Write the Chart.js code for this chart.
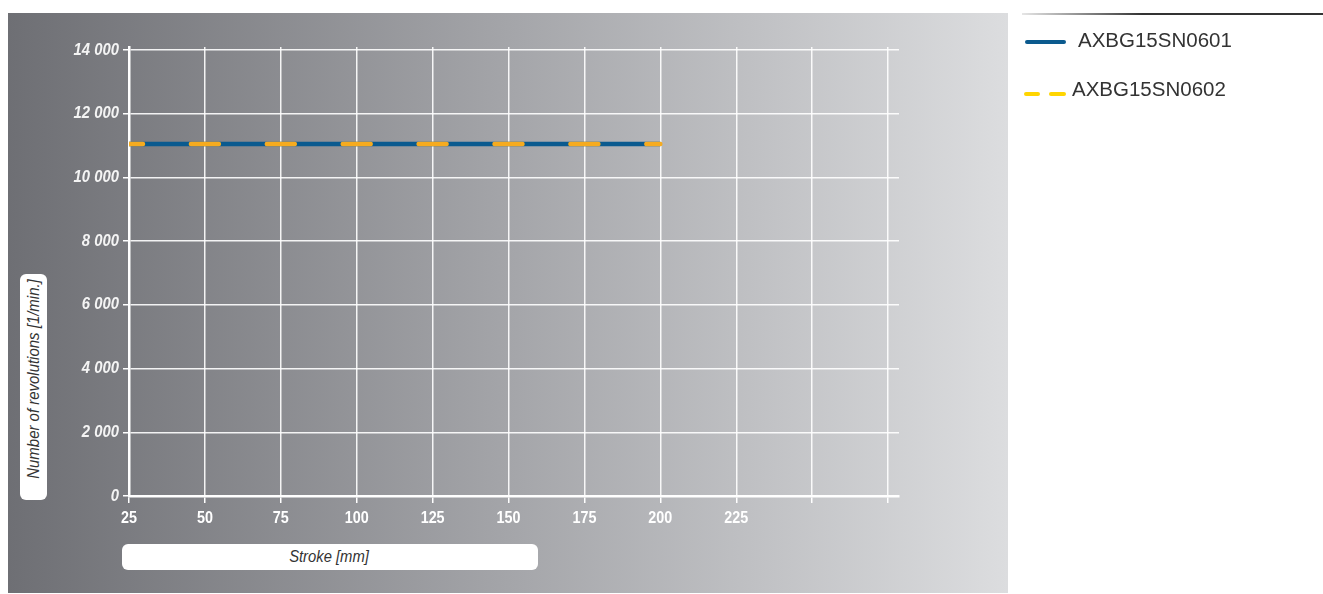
<!DOCTYPE html>
<html>
<head>
<meta charset="utf-8">
<script src="https://cdn.jsdelivr.net/npm/chart.js@4/dist/chart.umd.min.js"></script>
<style>
  html, body { margin:0; padding:0; background:#fff; }
  body { width:1323px; height:594px; position:relative; overflow:hidden; font-family:"Liberation Sans",Arial,sans-serif; }
  #panel { position:absolute; left:8px; top:13px; width:1000px; height:580px;
           background:linear-gradient(to right,#6e6f74 0%,#a4a5a9 50%,#dcdddf 100%); }
  #wrap { position:absolute; left:0; top:0; width:1323px; height:594px; }
  .box { position:absolute; background:#fff; border-radius:6px; color:#333; font-style:italic; }
  #ytitle { left:20px; top:274px; width:27px; height:226px; }
  #ytitle span { position:absolute; left:50%; top:105px; transform:translate(-50%,-50%) rotate(-90deg) scaleX(0.88); white-space:nowrap; font-size:17px; }
  #xtitle { left:122px; top:544px; width:416px; height:26px; }
  #xtitle span { position:absolute; left:207px; top:13px; transform:translate(-50%,-50%) scaleX(0.87); white-space:nowrap; font-size:17px; }
  #topline { position:absolute; left:1022px; top:13px; width:301px; height:2px; background:linear-gradient(to right,#e6e6e6,#333 40%,#333); }
  .lg { position:absolute; font-family:"Liberation Sans",Arial,sans-serif; font-size:20.5px; color:#333; white-space:nowrap; }
  .sw { position:absolute; height:4px; border-radius:2px; }
</style>
</head>
<body>
<div id="panel"></div>
<div id="wrap"><canvas id="c" width="1323" height="594"></canvas></div>
<div class="box" id="ytitle"><span>Number of revolutions [1/min.]</span></div>
<div class="box" id="xtitle"><span>Stroke [mm]</span></div>
<div id="topline"></div>
<div class="sw" style="left:1025px;top:40px;width:41px;background:#0b5a8e"></div>
<div class="lg" id="lg1" style="left:1078px;top:28px"></div>
<div class="sw" style="left:1024px;top:92px;width:16px;background:#ffd500"></div>
<div class="sw" style="left:1049px;top:92px;width:17px;background:#ffd500"></div>
<div class="lg" id="lg2" style="left:1072px;top:77px"></div>
<script>
// ---- data ----
const seriesNames = ["AXBG15SN0601", "AXBG15SN0602"];
const strokeMm = [25, 200];
const revA = [11050, 11050];
const revB = [11050, 11050];
const xTickValues = [25, 50, 75, 100, 125, 150, 175, 200, 225, 250, 275];
const xTickLabels = ["25", "50", "75", "100", "125", "150", "175", "200", "225", "", ""];
const yTickValues = [0, 2000, 4000, 6000, 8000, 10000, 12000, 14000];
const yTickLabels = ["0", "2 000", "4 000", "6 000", "8 000", "10 000", "12 000", "14 000"];

document.getElementById('lg1').textContent = seriesNames[0];
document.getElementById('lg2').textContent = seriesNames[1];

const pts = (xs, ys) => xs.map((x, i) => ({x: x, y: ys[i]}));

// condensed tick labels, drawn at the library's own tick positions
const condensedTicks = {
  id: 'condensedTicks',
  afterDraw(chart) {
    const ctx = chart.ctx, xs = chart.scales.x, ys = chart.scales.y;
    ctx.save();
    ctx.fillStyle = '#ffffff';
    ctx.font = "bold 16.5px 'Liberation Sans', Arial, sans-serif";
    ctx.textAlign = 'center'; ctx.textBaseline = 'middle';
    xTickValues.forEach((v, i) => {
      const lbl = xTickLabels[i]; if (!lbl) return;
      ctx.save(); ctx.translate(xs.getPixelForValue(v), xs.top + 22); ctx.scale(0.87, 1);
      ctx.fillText(lbl, 0, 0); ctx.restore();
    });
    ctx.fillStyle = '#f4f4f4';
    ctx.font = "italic bold 16.5px 'Liberation Sans', Arial, sans-serif";
    ctx.textAlign = 'right';
    yTickValues.forEach((v, i) => {
      const lbl = yTickLabels[i]; if (!lbl) return;
      ctx.save(); ctx.translate(ys.right - 10, ys.getPixelForValue(v)); ctx.scale(0.9, 1);
      ctx.fillText(lbl, 0, 0); ctx.restore();
    });
    ctx.restore();
  }
};

new Chart(document.getElementById('c'), {
  type: 'line',
  data: {
    datasets: [
      { label: seriesNames[1], data: pts(strokeMm, revB), borderColor: '#f6ab1f', borderWidth: 4.5,
        borderDash: [28, 47.9], borderDashOffset: 14, borderCapStyle: 'round', pointRadius: 0, fill: false, order: 0 },
      { label: seriesNames[0], data: pts(strokeMm, revA), borderColor: '#0a5a8f', borderWidth: 4.5,
        pointRadius: 0, fill: false, order: 1 }
    ]
  },
  options: {
    responsive: false, animation: false,
    layout: { padding: { left: 0, top: 47, right: 424, bottom: 0 } },
    plugins: { legend: { display: false }, tooltip: { enabled: false } },
    scales: {
      x: {
        type: 'linear', min: 25, max: 278.6,
        afterFit: s => { s.height = 98; },
        afterBuildTicks: s => { s.ticks = xTickValues.map(v => ({value: v})); },
        ticks: { display: false },
        grid: { color: 'rgba(255,255,255,0.9)', lineWidth: 1.5, tickLength: 7, tickColor: '#fff', tickWidth: 1.5 },
        border: { display: true, color: '#fff', width: 2.5 }
      },
      y: {
        type: 'linear', min: 0, max: 14100,
        afterFit: s => { s.width = 129; },
        afterBuildTicks: s => { s.ticks = yTickValues.map(v => ({value: v})); },
        ticks: { display: false },
        grid: { color: 'rgba(255,255,255,0.9)', lineWidth: 1.5, tickLength: 6, tickColor: '#fff', tickWidth: 1.5 },
        border: { display: true, color: '#fff', width: 2.5 }
      }
    }
  },
  plugins: [condensedTicks]
});
</script>
</body>
</html>
